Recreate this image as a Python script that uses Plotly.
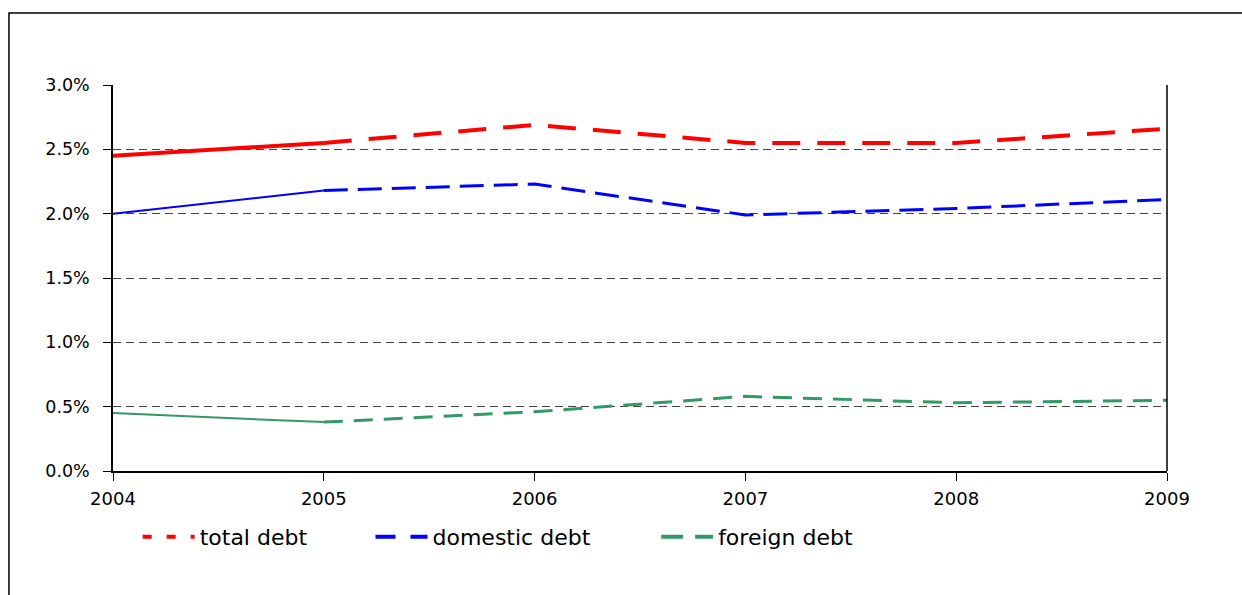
import plotly.graph_objects as go

years = [2004, 2005, 2006, 2007, 2008, 2009]
total_debt = [2.45, 2.55, 2.69, 2.55, 2.55, 2.66]
domestic_debt = [2.00, 2.18, 2.23, 1.99, 2.04, 2.11]
foreign_debt = [0.45, 0.38, 0.46, 0.58, 0.53, 0.55]

series = [
    # name, values, color, solid width, dashed width, line dash, legend dash, legend id, legend x
    ("total debt", total_debt, "#FF0000", 4, 4, "28px,17px", "9px,15px", "legend", 0.0234),
    ("domestic debt", domestic_debt, "#0000FF", 2, 3, "24px,10px", "20px,15px", "legend2", 0.2443),
    ("foreign debt", foreign_debt, "#339966", 2, 3, "19px,11px", "22px,12px", "legend3", 0.5153),
]

FONT = "DejaVu Sans, Liberation Sans, Arial, sans-serif"

fig = go.Figure()
for name, vals, color, w_solid, w_dash, dash, ldash, leg, lx in series:
    fig.add_trace(go.Scatter(x=years[:2], y=vals[:2], mode="lines",
                             line=dict(color=color, width=w_solid),
                             showlegend=False, hoverinfo="skip"))
    fig.add_trace(go.Scatter(x=years[1:], y=vals[1:], mode="lines",
                             line=dict(color=color, width=w_dash, dash=dash),
                             showlegend=False, name=name))
    fig.add_trace(go.Scatter(x=[None], y=[None], mode="lines", name=name,
                             line=dict(color=color, width=4, dash=ldash),
                             showlegend=True, legend=leg))

legend_common = dict(orientation="h", yanchor="middle", y=-0.171, xanchor="left",
                     bgcolor="rgba(0,0,0,0)", font=dict(family=FONT, size=22, color="#000"),
                     itemwidth=52)
fig.update_layout(
    legend=dict(x=series[0][8], **legend_common),
    legend2=dict(x=series[1][8], **legend_common),
    legend3=dict(x=series[2][8], **legend_common),
)

fig.update_layout(
    width=1242, height=595,
    margin=dict(l=113, r=75, t=85, b=124),
    paper_bgcolor="white", plot_bgcolor="white",
    font=dict(family=FONT, size=16, color="#000"),
    xaxis=dict(range=[2004, 2009], tickvals=years, tickformat="d",
               showgrid=False, zeroline=False, showline=True, linecolor="#000", linewidth=1.5,
               ticks="outside", ticklen=8, tickcolor="#000", tickwidth=1,
               tickfont=dict(size=18, family=FONT), ticklabelstandoff=3),
    yaxis=dict(range=[0, 3], dtick=0.5, tickformat=".1f", ticksuffix="%",
               showgrid=True, gridcolor="#444", gridwidth=1, griddash="8px,5px",
               zeroline=False, showline=True, linecolor="#000", linewidth=1.5,
               ticks="outside", ticklen=8, tickcolor="#000", tickwidth=1,
               tickfont=dict(size=17.5, family=FONT), ticklabelstandoff=10),
    shapes=[
        dict(type="line", xref="paper", yref="paper", x0=1, x1=1, y0=0, y1=1,
             line=dict(color="#000", width=1.5)),
        dict(type="rect", xref="paper", yref="paper", x0=-0.0987, x1=1.09, y0=-0.36, y1=1.1865,
             line=dict(color="#000", width=1.5), layer="below"),
    ],
)

fig.write_html("out.html")
